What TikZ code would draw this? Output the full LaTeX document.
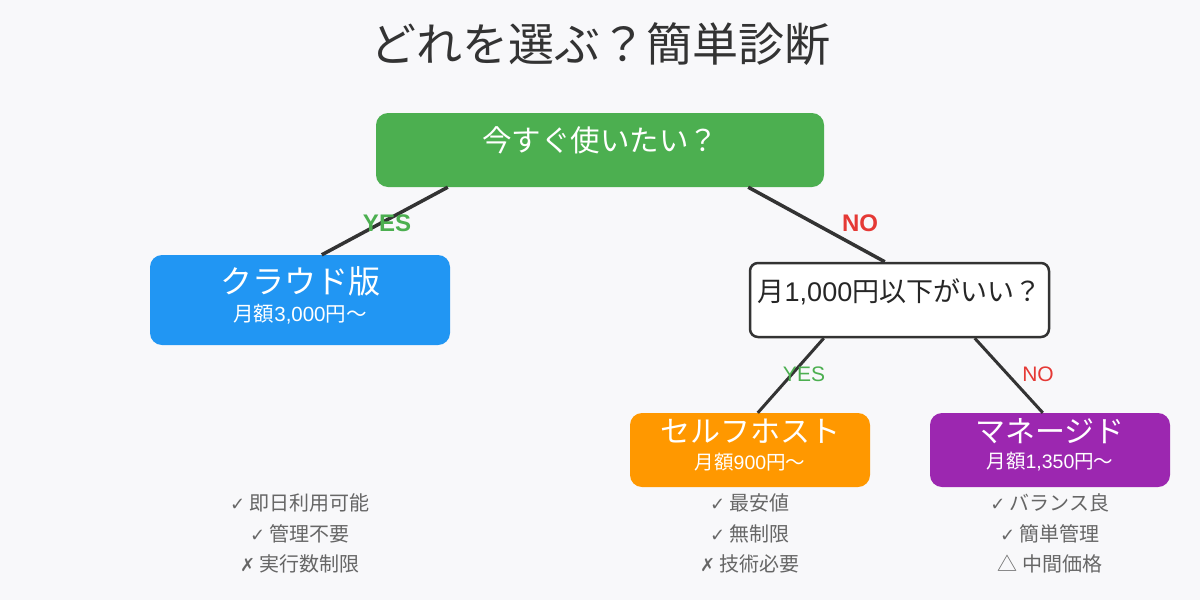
\documentclass[tikz,border=0pt]{standalone}
\usepackage{fontspec}
\setmainfont{Noto Sans CJK JP}
\newfontfamily\lat{Liberation Sans}
\newfontfamily\sym{DejaVu Sans}
\usetikzlibrary{calc}
\definecolor{bg}{HTML}{F8F8FA}
\definecolor{titlec}{HTML}{333333}
\definecolor{gbox}{HTML}{4CAF50}
\definecolor{bbox}{HTML}{2196F3}
\definecolor{obox}{HTML}{FF9800}
\definecolor{pbox}{HTML}{9C27B0}
\definecolor{yesc}{HTML}{4CAF50}
\definecolor{noc}{HTML}{E53935}
\definecolor{linec}{HTML}{333333}
\definecolor{listc}{HTML}{666666}
\newcommand{\fs}[1]{\fontsize{#1}{#1}\selectfont}
\tikzset{
  boxshape/.style={rectangle, rounded corners=12pt, draw=none, inner sep=0pt},
  conn/.style={line width=3.5pt, draw=linec},
  boxtext/.style={text=white, inner sep=0pt, anchor=center},
  listtext/.style={text=listc, inner sep=0pt, font=\fs{20}},
}
\begin{document}
\begin{tikzpicture}[x=1pt,y=-1pt]
\fill[bg] (0,0) rectangle (1200,600);
\useasboundingbox (0,0) rectangle (1200,600);

\node[text=titlec, font=\fs{46}, inner sep=0pt] (title) at (600,44) {どれを選ぶ？簡単診断};

\node[boxshape, fill=gbox, minimum width=448pt, minimum height=74pt] (q1) at (600,150) {};
\node[boxtext, font=\fs{29.5}] (q1t) at (600,140) {今すぐ使いたい？};

\node[boxshape, fill=bbox, minimum width=300pt, minimum height=90pt] (cloud) at (300,300) {};
\node[boxtext, font=\fs{32}] (cloudt) at (300,281) {クラウド版};
\node[boxtext, font=\fs{20.5}] (cloudp) at (300,314) {月額{\lat 3,000}円〜};

\node[boxshape, rounded corners=8pt, fill=white, draw=linec, line width=2.5pt, minimum width=299pt, minimum height=74pt] (q2) at (899.5,300) {};
\node[text=black!85, font=\fs{27}, inner sep=0pt] (q2t) at (899.5,292) {月{\lat 1,000}円以下がいい？};

\node[boxshape, fill=obox, minimum width=240pt, minimum height=74pt] (self) at (750,450) {};
\node[boxtext, font=\fs{30}] (selft) at (750,431) {セルフホスト};
\node[boxtext, font=\fs{19.5}] (selfp) at (750,462) {月額{\lat 900}円〜};

\node[boxshape, fill=pbox, minimum width=240pt, minimum height=74pt] (man) at (1050,450) {};
\node[boxtext, font=\fs{30}] (mant) at (1050,431) {マネージド};
\node[boxtext, font=\fs{19.5}] (manp) at (1050,462) {月額{\lat 1,350}円〜};

% connectors
\draw[conn] ($(q1.south west)+(72,0)$) -- ($(cloud.north west)+(172,0)$);
\draw[conn] ($(q1.south east)+(-76,0)$) -- ($(q2.north west)+(136,0)$);
\draw[conn, line width=3pt] ($(q2.south west)+(75,0)$) -- ($(self.north west)+(128,0)$);
\draw[conn, line width=3pt] ($(q2.south west)+(226,0)$) -- ($(man.north west)+(113,0)$);

% labels
\node[text=yesc, font=\lat\bfseries\fs{24}, inner sep=0pt] (l1) at (387,223) {YES};
\node[text=noc, font=\lat\bfseries\fs{24}, inner sep=0pt] (l2) at (860,223) {NO};
\node[text=yesc, font=\lat\fs{21}, inner sep=0pt] (l3) at (804,374) {YES};
\node[text=noc, font=\lat\fs{21}, inner sep=0pt] (l4) at (1038,374) {NO};

% lists
\node[listtext] (c1) at (300,503) {{\sym\fs{18}✓} 即日利用可能};
\node[listtext] (c2) at (300,534) {{\sym\fs{18}✓} 管理不要};
\node[listtext] (c3) at (300,564) {{\sym\fs{18}✗} 実行数制限};

\node[listtext] (s1) at (750,503) {{\sym\fs{18}✓} 最安値};
\node[listtext] (s2) at (750,534) {{\sym\fs{18}✓} 無制限};
\node[listtext] (s3) at (750,564) {{\sym\fs{18}✗} 技術必要};

\node[listtext] (m1) at (1050,503) {{\sym\fs{18}✓} バランス良};
\node[listtext] (m2) at (1050,534) {{\sym\fs{18}✓} 簡単管理};
\node[listtext] (m3) at (1050,564) {△ 中間価格};
\end{tikzpicture}
\end{document}
